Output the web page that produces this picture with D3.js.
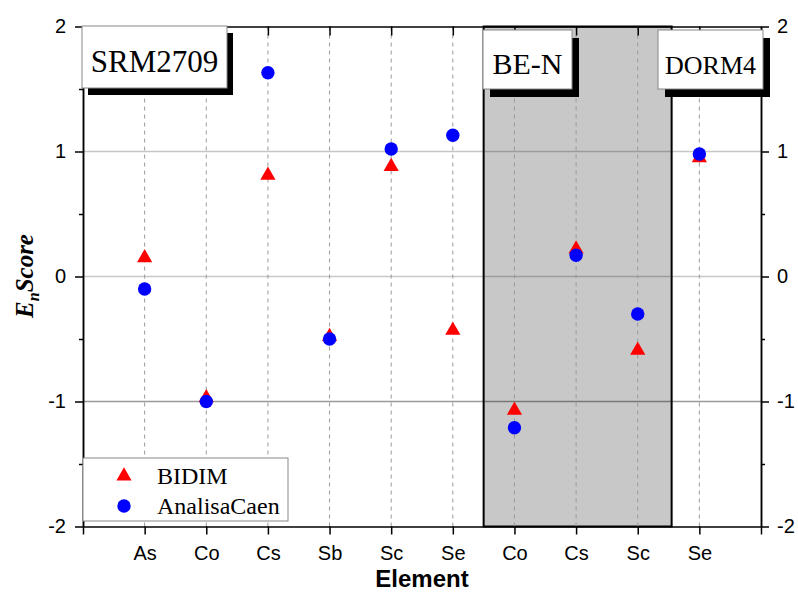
<!DOCTYPE html>
<html>
<head>
<meta charset="utf-8">
<script src="https://cdn.jsdelivr.net/npm/d3@7"></script>
<style>
  body { margin: 0; background: #fff; }
  .axis text { font-family: "Liberation Sans", Arial, sans-serif; font-size: 20px; fill: #000; }
  .axis path, .axis line { stroke: #000; stroke-width: 1.5; }
  .lab { font-family: "Liberation Serif", "Times New Roman", serif; fill: #000; }
</style>
</head>
<body>
<script>
// categories (x positions 1..10)
var elements = ["As", "Co", "Cs", "Sb", "Sc", "Se", "Co", "Cs", "Sc", "Se"];
// series
var bidim = [0.15, -0.97, 0.81, -0.48, 0.88, -0.43, -1.07, 0.22, -0.59, 0.95];
var analisaCaen = [-0.10, -1.00, 1.63, -0.50, 1.02, 1.13, -1.21, 0.17, -0.30, 0.98];
var yTicks = [-2, -1, 0, 1, 2];
var yMinor = [-1.5, -0.5, 0.5, 1.5];
var gridVals = [-1, 0, 1];
// reference materials (start/end in x units)
var groups = [
  {name: "SRM2709", start: 0, end: 6.5, shaded: false},
  {name: "BE-N", start: 6.5, end: 9.55, shaded: true},
  {name: "DORM4", start: 9.55, end: 11, shaded: false}
];

var W = 798, H = 603;
var x = d3.scaleLinear().domain([0, 11]).range([83, 761]);
var y = d3.scaleLinear().domain([-2, 2]).range([526.5, 26.5]);

// plain hyphen for negatives, like the original
var fmt = function(d) { return String(d); };

var svg = d3.select("body").append("svg")
  .attr("width", W).attr("height", H);

// shaded group
groups.filter(function(g) { return g.shaded; }).forEach(function(g) {
  svg.append("rect")
    .attr("x", x(g.start)).attr("y", y(2))
    .attr("width", x(g.end) - x(g.start)).attr("height", y(-2) - y(2))
    .attr("fill", "#c8c8c8").attr("stroke", "#000").attr("stroke-width", 2);
});

// horizontal grid
svg.selectAll(".hgrid").data(gridVals).enter().append("line")
  .attr("x1", x(0)).attr("x2", x(11))
  .attr("y1", function(d) { return y(d); }).attr("y2", function(d) { return y(d); })
  .attr("stroke", "#000")
  .attr("stroke-opacity", function(d) { return d == -1 ? 0.4 : 0.22; })
  .attr("stroke-width", 1.3);

// vertical dashed grid
svg.selectAll(".vgrid").data(elements).enter().append("line")
  .attr("x1", function(d, i) { return x(i + 1); }).attr("x2", function(d, i) { return x(i + 1); })
  .attr("y1", y(2)).attr("y2", y(-2))
  .attr("stroke", "#999").attr("stroke-width", 1)
  .attr("stroke-dasharray", "4,4");

// axes
svg.append("g").attr("class", "axis")
  .attr("transform", "translate(" + x(0) + ",0)")
  .call(d3.axisLeft(y).tickValues(yTicks).tickSize(8).tickSizeOuter(0).tickPadding(9).tickFormat(fmt));
svg.append("g").attr("class", "axis")
  .attr("transform", "translate(" + x(0) + ",0)")
  .call(d3.axisLeft(y).tickValues(yMinor).tickSize(4).tickSizeOuter(0).tickFormat(""));
svg.append("g").attr("class", "axis")
  .attr("transform", "translate(" + x(11) + ",0)")
  .call(d3.axisRight(y).tickValues(yTicks).tickSize(8).tickSizeOuter(0).tickPadding(8).tickFormat(fmt));
svg.append("g").attr("class", "axis")
  .attr("transform", "translate(" + x(11) + ",0)")
  .call(d3.axisRight(y).tickValues(yMinor).tickSize(4).tickSizeOuter(0).tickFormat(""));

var xTickVals = d3.range(0, 12);
svg.append("g").attr("class", "axis")
  .attr("transform", "translate(0," + y(-2) + ")")
  .call(d3.axisBottom(x).tickValues(xTickVals).tickSize(8).tickSizeOuter(0).tickPadding(11)
    .tickFormat(function(d) { return elements[d - 1] || ""; }));
svg.append("g").attr("class", "axis")
  .attr("transform", "translate(0," + y(2) + ")")
  .call(d3.axisBottom(x).tickValues(d3.range(1, 11)).tickSize(9).tickSizeOuter(0).tickFormat(""));

// points
var tri = d3.symbol().type(d3.symbolTriangle).size(100);
svg.selectAll(".tri").data(bidim).enter().append("path")
  .attr("d", tri)
  .attr("transform", function(d, i) { return "translate(" + x(i + 1) + "," + y(d) + ")"; })
  .attr("fill", "#ff0000");
svg.selectAll(".dot").data(analisaCaen).enter().append("circle")
  .attr("cx", function(d, i) { return x(i + 1); })
  .attr("cy", function(d) { return y(d); })
  .attr("r", 6.7)
  .attr("fill", "#0000ff");

// label boxes with shadow
var boxes = [
  {text: "SRM2709", x0: 82, x1: 227, y0: 26, y1: 88, dx: 6, dy: 7, fs: 31, base: 72},
  {text: "BE-N", x0: 483, x1: 572, y0: 30, y1: 89, dx: 7, dy: 8, fs: 30, base: 74},
  {text: "DORM4", x0: 658, x1: 763, y0: 30, y1: 89, dx: 7, dy: 8, fs: 26, base: 74}
];
boxes.forEach(function(b) {
  svg.append("rect")
    .attr("x", b.x0 + b.dx).attr("y", b.y0 + b.dy)
    .attr("width", b.x1 - b.x0).attr("height", b.y1 - b.y0)
    .attr("fill", "#000");
  svg.append("rect")
    .attr("x", b.x0).attr("y", b.y0)
    .attr("width", b.x1 - b.x0).attr("height", b.y1 - b.y0)
    .attr("fill", "#fff").attr("stroke", "#888").attr("stroke-width", 1);
  svg.append("text").attr("class", "lab")
    .attr("x", (b.x0 + b.x1) / 2).attr("y", b.base)
    .attr("text-anchor", "middle")
    .style("font-size", b.fs + "px")
    .text(b.text);
});

// legend
var leg = svg.append("g");
leg.append("rect")
  .attr("x", 83).attr("y", 458).attr("width", 205).attr("height", 63)
  .attr("fill", "#fff").attr("stroke", "#888").attr("stroke-width", 1);
leg.append("path").attr("d", tri).attr("transform", "translate(124,476)").attr("fill", "#ff0000");
leg.append("circle").attr("cx", 124).attr("cy", 506).attr("r", 6.7).attr("fill", "#0000ff");
leg.append("text").attr("class", "lab").attr("x", 157).attr("y", 484)
  .style("font-size", "24px").text("BIDIM");
leg.append("text").attr("class", "lab").attr("x", 157).attr("y", 514)
  .style("font-size", "24px").text("AnalisaCaen");

// axis titles
svg.append("text")
  .attr("x", (x(0) + x(11)) / 2).attr("y", 587)
  .attr("text-anchor", "middle")
  .style("font-family", "'Liberation Sans', Arial, sans-serif")
  .style("font-size", "24px").style("font-weight", "bold")
  .text("Element");

var yl = svg.append("text").attr("class", "lab")
  .attr("transform", "translate(33,276) rotate(-90)")
  .attr("text-anchor", "middle")
  .style("font-size", "25px").style("font-weight", "bold").style("font-style", "italic");
yl.append("tspan").text("E");
yl.append("tspan").attr("dy", 6).style("font-size", "16px").text("n");
yl.append("tspan").attr("dy", -6).text("Score");
</script>
</body>
</html>
